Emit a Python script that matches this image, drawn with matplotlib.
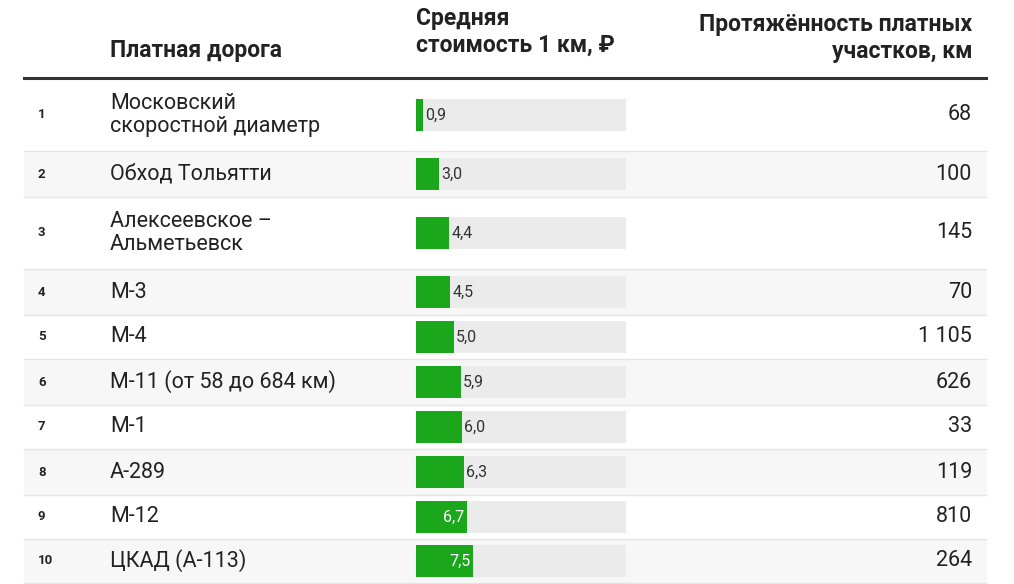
import matplotlib.pyplot as plt
from matplotlib.patches import Rectangle

plt.rcParams["font.family"] = ["Roboto", "DejaVu Sans"]

ranks = [1, 2, 3, 4, 5, 6, 7, 8, 9, 10]
roads = ["Московский\nскоростной диаметр", "Обход Тольятти", "Алексеевское –\nАльметьевск",
         "М-3", "М-4", "М-11 (от 58 до 684 км)", "М-1", "А-289", "М-12", "ЦКАД (А-113)"]
cost = [0.9, 3.0, 4.4, 4.5, 5.0, 5.9, 6.0, 6.3, 6.7, 7.5]
length = ["68", "100", "145", "70", "1 105", "626", "33", "119", "810", "264"]

# row boundaries in pixels
tops = [80, 152, 198, 270, 316, 360, 406, 450, 496, 540]
bots = [150, 196, 268, 314, 358, 404, 448, 494, 538, 582]

W, H = 1014, 584
fig = plt.figure(figsize=(W / 100, H / 100), dpi=100)
ax = fig.add_axes([0, 0, 1, 1])
ax.set_xlim(0, W)
ax.set_ylim(H, 0)
ax.axis("off")

green = "#1ba71b"
for i in range(len(ranks)):
    t, b = tops[i], bots[i]
    c = (t + b) / 2
    if i % 2 == 1:
        ax.add_patch(Rectangle((24, t), 962, b - t, color="#f7f7f7", zorder=0))
    ax.plot([24, 986], [b + 1, b + 1], color="#e4e4e4", lw=1)
    ax.text(38, c, str(ranks[i]), fontsize=9.5, fontweight="bold", color="#222", va="center")
    ax.text(110, c, roads[i], fontsize=15.5, color="#222", va="center", linespacing=1.15)
    ax.text(972, c, length[i], fontsize=15.5, color="#222", va="center", ha="right")

ax.plot([24, 986], [78, 78], color="#333", lw=2.2)
ax.text(110, 50, "Платная дорога", fontsize=16.5, fontweight="bold", color="#222", va="center")
ax.text(416, 32, "Средняя\nстоимость 1 км, ₽", fontsize=16.5, fontweight="bold", color="#222",
        va="center", linespacing=1.25)
ax.text(972, 38, "Протяжённость платных\nучастков, км", fontsize=16.5, fontweight="bold",
        color="#222", va="center", ha="right", multialignment="right", linespacing=1.25)

# bar column
bx = fig.add_axes([416 / W, 0, 210 / W, 1])
bx.set_xlim(0, 27.6)
bx.set_ylim(H, 0)
bx.axis("off")
centers = [(t + b) / 2 for t, b in zip(tops, bots)]
bx.barh(centers, [27.6] * len(centers), height=32, color="#ebebeb", left=0)
bx.barh(centers, cost, height=32, color=green)
for y, v in zip(centers, cost):
    s = f"{v:.1f}".replace(".", ",")
    if v >= 6.5:
        bx.text(v - 0.3, y, s, ha="right", va="center", color="white", fontsize=11.5)
    else:
        bx.text(v + 0.3, y, s, ha="left", va="center", color="#333", fontsize=11.5)

fig.savefig("out.png", dpi=100)
